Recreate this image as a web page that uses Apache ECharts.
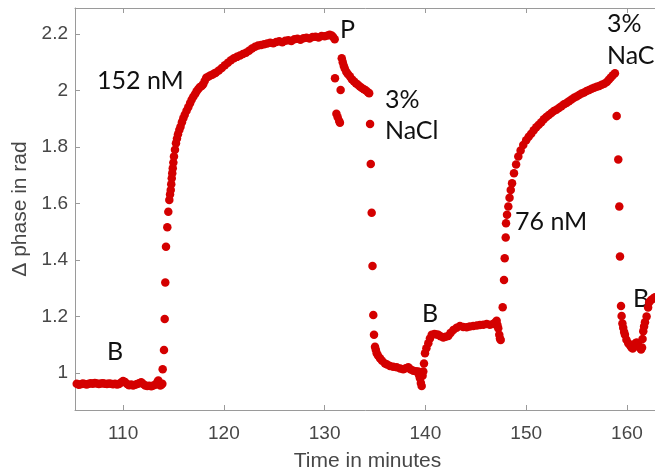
<!DOCTYPE html>
<html>
<head>
<meta charset="utf-8">
<script src="https://cdn.jsdelivr.net/npm/echarts@6/dist/echarts.min.js"></script>
<style>
  html, body { margin: 0; padding: 0; background: #ffffff; }
  #chart { width: 655px; height: 470px; }
</style>
</head>
<body>
<div id="chart"></div>
<script>
// Δ phase readings as [time in minutes, phase in rad], one array per experiment stage.
const baseline1 = [
  [105.4,0.962],[105.6,0.958],[105.8,0.960],[106.0,0.963],[106.2,0.961],[106.4,0.959],
  [106.6,0.962],[106.8,0.964],[107.0,0.962],[107.2,0.965],[107.4,0.963],[107.6,0.961],
  [107.8,0.963],[108.0,0.964],[108.2,0.962],[108.4,0.961],[108.6,0.963],[108.8,0.962],
  [109.0,0.960],[109.2,0.962],[109.4,0.959],[109.6,0.961],[109.8,0.966],[110.0,0.972],
  [110.2,0.968],[110.4,0.961],[110.6,0.957],[110.8,0.959],[111.0,0.956],[111.2,0.958],
  [111.4,0.961],[111.6,0.964],[111.8,0.967],[112.0,0.961],[112.2,0.956],[112.4,0.954],
  [112.6,0.955],[112.8,0.953],[113.0,0.956],[113.2,0.958],[113.4,0.968],[113.5,0.973],
  [113.6,0.965],[113.7,0.956],[113.8,0.958],[113.9,0.962]
];

const binding152 = [
  [113.93,1.013],[114.06,1.081],[114.13,1.191],[114.19,1.320],[114.26,1.447],[114.39,1.516],
  [114.49,1.571],[114.59,1.612],[114.66,1.632],[114.73,1.648],[114.78,1.668],[114.83,1.689],
  [114.88,1.707],[114.93,1.725],[114.99,1.745],[115.05,1.766],[115.15,1.790],[115.25,1.813],
  [115.35,1.830],[115.45,1.845],[115.58,1.860],[115.7,1.872],[115.84,1.888],[115.98,1.902],
  [116.12,1.914],[116.3,1.928],[116.47,1.941],[116.65,1.955],[116.8,1.967],[116.97,1.978],
  [117.15,1.988],[117.3,1.997],[117.47,2.005],[117.63,2.012],[117.8,2.016],[117.95,2.022],
  [118.1,2.034],[118.25,2.045],[118.45,2.049],[118.65,2.053],[118.85,2.056],[119.05,2.060],
  [119.2,2.063],[119.5,2.071],[119.8,2.080],[120.1,2.089],[120.4,2.098],[120.7,2.107],
  [121.0,2.114],[121.3,2.119],[121.6,2.124],[121.9,2.129],[122.2,2.134],[122.5,2.141],
  [122.8,2.149],[123.1,2.155],[123.4,2.159],[123.7,2.161],[124.0,2.164],[124.3,2.166],
  [124.6,2.169],[124.9,2.167],[125.2,2.172],[125.5,2.174],[125.8,2.171],[126.1,2.176],
  [126.4,2.178],[126.7,2.175],[127.0,2.181],[127.3,2.183],[127.6,2.180],[127.9,2.185],
  [128.2,2.187],[128.5,2.184],[128.8,2.189],[129.1,2.190],[129.4,2.188],[129.7,2.193],
  [130.0,2.192],[130.3,2.195],[130.5,2.197],[130.7,2.195],[130.85,2.189],[131.0,2.181]
];

const regeneration1 = [
  [131.03,2.043],[131.17,1.918],[131.3,1.905],[131.45,1.892],[131.52,1.886],[131.59,2.002],
  [131.70,2.114],[131.8,2.100],[131.9,2.088],[132.0,2.078],[132.15,2.066],[132.3,2.058],
  [132.5,2.050],[132.7,2.040],[132.9,2.033],[133.1,2.026],[133.3,2.020],[133.5,2.014],
  [133.7,2.009],[133.9,2.004],[134.1,2.000],[134.3,1.994],[134.42,1.990],
  [134.51,1.881],[134.58,1.740],[134.67,1.567],[134.75,1.379],[134.83,1.205],[134.9,1.135]
];

const baseline2 = [
  [135.0,1.093],[135.08,1.082],[135.17,1.070],[135.3,1.062],[135.49,1.052],[135.7,1.043],
  [135.99,1.034],[136.2,1.030],[136.48,1.025],[136.8,1.022],[137.15,1.020],[137.5,1.016],
  [137.8,1.013],[138.05,1.017],[138.3,1.020],[138.55,1.012],[138.8,1.008],[139.05,1.006],
  [139.29,1.005],[139.38,0.992],[139.46,0.981],[139.55,0.965],[139.63,0.954],[139.72,0.990],
  [139.79,1.005],[139.86,1.034],[139.96,1.070],[140.1,1.088],[140.29,1.105],[140.45,1.122],
  [140.63,1.135],[140.9,1.138],[141.1,1.136],[141.28,1.135],[141.5,1.130],[141.78,1.126],
  [142.0,1.128],[142.27,1.131],[142.5,1.142],[142.77,1.152],[143.1,1.160],[143.43,1.166],
  [143.75,1.163],[144.09,1.162],[144.4,1.165],[144.75,1.166],[145.1,1.168],[145.41,1.170],
  [145.75,1.171],[146.08,1.173],[146.4,1.171],[146.73,1.173],[146.9,1.178],[147.07,1.185],
  [147.15,1.170],[147.23,1.158],[147.33,1.135],[147.4,1.122],[147.47,1.117]
];

const binding76 = [
  [147.67,1.233],[147.8,1.329],[147.87,1.406],[147.97,1.480],[148.0,1.530],[148.1,1.560],
  [148.23,1.589],[148.35,1.620],[148.47,1.648],[148.6,1.672],[148.79,1.707],[149.0,1.738],
  [149.22,1.766],[149.45,1.788],[149.71,1.807],[150.0,1.824],[150.25,1.836],[150.5,1.847],
  [150.75,1.859],[151.0,1.870],[151.25,1.879],[151.5,1.888],[151.75,1.898],[152.0,1.906],
  [152.25,1.913],[152.5,1.920],[152.75,1.927],[153.0,1.932],[153.25,1.938],[153.5,1.944],
  [153.75,1.951],[154.0,1.956],[154.25,1.962],[154.5,1.968],[154.75,1.974],[155.0,1.979],
  [155.25,1.984],[155.5,1.989],[155.75,1.993],[156.0,1.998],[156.25,2.002],[156.5,2.006],
  [156.75,2.010],[157.0,2.013],[157.25,2.016],[157.5,2.020],[157.75,2.024],[158.0,2.030],
  [158.2,2.038],[158.4,2.046],[158.6,2.054],[158.81,2.061]
];

const regeneration2 = [
  [158.98,1.910],[159.14,1.756],[159.24,1.589],[159.31,1.412],[159.41,1.237],[159.47,1.202],
  [159.55,1.175],[159.63,1.160],[159.72,1.145],[159.80,1.135],[159.95,1.118],[160.13,1.105],
  [160.3,1.098],[160.45,1.090],[160.57,1.087],[160.7,1.095],[160.85,1.105],[160.96,1.108],
  [161.1,1.100],[161.25,1.090],[161.4,1.083],[161.5,1.090],[161.55,1.120],[161.62,1.148],
  [161.7,1.165],[161.79,1.180],[161.95,1.200],[162.1,1.232],[162.21,1.250],[162.4,1.258],
  [162.61,1.264],[162.78,1.268]
];

const xTicks = [110, 120, 130, 140, 150, 160];
const yTicks = [1, 1.2, 1.4, 1.6, 1.8, 2, 2.2];

const segments = [baseline1, binding152, regeneration1, baseline2, binding76, regeneration2];

const AXIS_GRAY = '#9a9a9a';
const TEXT_GRAY = '#474747';
const DOT_RED = '#d40000';

const tickFont = { fontFamily: 'Liberation Sans', fontSize: 19, color: TEXT_GRAY };
const noteFont = { fontFamily: 'Lato', fontSize: 25, fill: '#111111' };

// Annotation text: (x, y) is the left end and vertical middle of the line.
function note(text, x, y) {
  return {
    type: 'text', x: x, y: y,
    style: Object.assign({ text: text, align: 'left', verticalAlign: 'middle' }, noteFont)
  };
}

const chart = echarts.init(document.getElementById('chart'), null, { renderer: 'canvas' });

chart.setOption({
  animation: false,
  backgroundColor: '#ffffff',
  grid: { left: 75, top: 8, width: 585, height: 402, containLabel: false, outerBoundsMode: 'none' },
  xAxis: [
    {
      type: 'value', position: 'bottom', min: 105.23, max: 163.28,
      axisLine: { show: true, onZero: false, lineStyle: { color: AXIS_GRAY, width: 1 } },
      axisTick: { show: true, inside: true, length: 5, customValues: xTicks, lineStyle: { color: AXIS_GRAY } },
      axisLabel: Object.assign({ customValues: xTicks, margin: 14 }, tickFont),
      splitLine: { show: false },
      name: 'Time in minutes', nameLocation: 'middle', nameGap: 41,
      nameTextStyle: { fontFamily: 'Liberation Sans', fontSize: 21, color: TEXT_GRAY }
    },
    {
      type: 'value', position: 'top', min: 105.23, max: 163.28,
      axisLine: { show: true, onZero: false, lineStyle: { color: AXIS_GRAY, width: 1 } },
      axisTick: { show: true, inside: true, length: 5, customValues: xTicks, lineStyle: { color: AXIS_GRAY } },
      axisLabel: { show: false },
      splitLine: { show: false }
    }
  ],
  yAxis: [
    {
      type: 'value', position: 'left', min: 0.869, max: 2.292,
      axisLine: { show: true, onZero: false, lineStyle: { color: AXIS_GRAY, width: 1 } },
      axisTick: { show: true, inside: true, length: 5, customValues: yTicks, lineStyle: { color: AXIS_GRAY } },
      axisLabel: Object.assign({ customValues: yTicks, margin: 7 }, tickFont),
      splitLine: { show: false },
      name: 'Δ phase in rad', nameLocation: 'middle', nameGap: 33,
      nameTextStyle: { fontFamily: 'Liberation Sans', fontSize: 21, color: TEXT_GRAY }
    }
  ],
  series: segments.map(function (seg) {
    return {
      type: 'scatter', xAxisIndex: 0, yAxisIndex: 0,
      data: seg, symbol: 'circle', symbolSize: 8.5,
      itemStyle: { color: DOT_RED, opacity: 1 },
      emphasis: { disabled: true }
    };
  }),
  graphic: [
    note('152 nM', 97, 81),
    note('P', 340, 30),
    note('3%', 385, 100),
    note('NaCl', 385, 131),
    note('76 nM', 515, 222),
    note('3%', 607, 24),
    note('NaCl', 607, 56),
    note('B', 107, 352),
    note('B', 422, 314),
    note('B', 633, 299)
  ]
});
</script>
</body>
</html>
